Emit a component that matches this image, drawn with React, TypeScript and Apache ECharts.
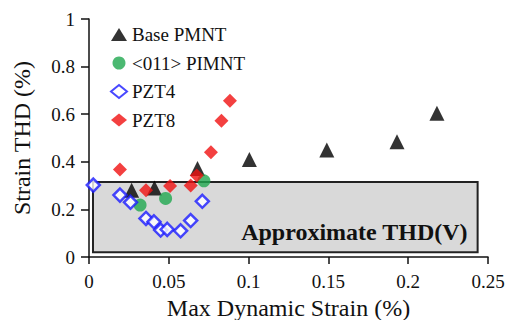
import React, { useEffect, useRef } from "react";
import * as echarts from "echarts";

const xTicks = [0, 0.05, 0.1, 0.15, 0.2, 0.25];
const yTicks = [0, 0.2, 0.4, 0.6, 0.8, 1];

const basePMNT: [number, number][] = [
  [0.0267, 0.28], [0.041, 0.29], [0.068, 0.372], [0.1005, 0.41],
  [0.149, 0.45], [0.193, 0.484], [0.218, 0.604],
];
const pimnt: [number, number][] = [
  [0.032, 0.218], [0.048, 0.246], [0.072, 0.32],
];
const pzt4: [number, number][] = [
  [0.0027, 0.302], [0.0194, 0.26], [0.026, 0.23], [0.0357, 0.162],
  [0.0407, 0.148], [0.0449, 0.113], [0.049, 0.116], [0.0574, 0.11],
  [0.0637, 0.153], [0.071, 0.234],
];
const pzt8: [number, number][] = [
  [0.0194, 0.368], [0.0357, 0.28], [0.0508, 0.298], [0.0637, 0.3],
  [0.0675, 0.342], [0.0764, 0.44], [0.083, 0.573], [0.0883, 0.657],
];
const thdBox = { x0: 0.0025, x1: 0.2435, y0: 0.02, y1: 0.315, label: "Approximate THD(V)" };

const FONT = "Times New Roman, Liberation Serif, serif";

export default function App() {
  const ref = useRef<HTMLDivElement>(null);
  useEffect(() => {
    if (!ref.current) return;
    const chart = echarts.init(ref.current, null, { renderer: "svg" });
    chart.setOption({
      animation: false,
      backgroundColor: "#fff",
      textStyle: { fontFamily: FONT, color: "#111" },
      grid: { left: 89, right: 20, top: 19, bottom: 63, containLabel: false, outerBoundsMode: "none" },
      legend: {
        data: ["Base PMNT", "<011> PIMNT", "PZT4", "PZT8"],
        orient: "vertical",
        left: 105,
        top: 20,
        itemGap: 9.5,
        itemWidth: 16,
        itemHeight: 13,
        textStyle: { fontFamily: FONT, fontSize: 19, color: "#111" },
      },
      xAxis: {
        type: "value",
        min: xTicks[0],
        max: xTicks[xTicks.length - 1],
        interval: 0.05,
        name: "Max Dynamic Strain (%)",
        nameLocation: "middle",
        nameGap: 38,
        nameTextStyle: { fontFamily: FONT, fontSize: 24, color: "#111" },
        axisLine: { lineStyle: { color: "#111", width: 1.5 } },
        axisTick: { show: true, length: 7, lineStyle: { color: "#111", width: 1.5 } },
        axisLabel: { fontFamily: FONT, fontSize: 19, color: "#111", margin: 15 },
        splitLine: { show: false },
      },
      yAxis: {
        type: "value",
        min: yTicks[0],
        max: yTicks[yTicks.length - 1],
        interval: 0.2,
        name: "Strain THD (%)",
        nameLocation: "middle",
        nameGap: 55,
        nameTextStyle: { fontFamily: FONT, fontSize: 24, color: "#111" },
        axisLine: { show: true, lineStyle: { color: "#111", width: 1.5 } },
        axisTick: { show: true, length: 8, lineStyle: { color: "#111", width: 1.5 } },
        axisLabel: { fontFamily: FONT, fontSize: 19, color: "#111", margin: 14 },
        splitLine: { show: false },
      },
      series: [
        {
          name: "box",
          type: "scatter",
          data: [],
          silent: true,
          markArea: {
            silent: true,
            itemStyle: { color: "#d9d9d9", borderColor: "#222", borderWidth: 2 },
            label: {
              show: true,
              position: "insideBottomRight",
              offset: [-6, -4],
              fontFamily: FONT,
              fontSize: 24,
              fontWeight: "bold",
              color: "#111",
            },
            data: [[
              { name: thdBox.label, coord: [thdBox.x0, thdBox.y0] },
              { coord: [thdBox.x1, thdBox.y1] },
            ]],
          },
        },
        {
          name: "Base PMNT",
          type: "scatter",
          symbol: "triangle",
          symbolSize: 15,
          itemStyle: { color: "#000" },
          data: basePMNT,
        },
        {
          name: "<011> PIMNT",
          type: "scatter",
          symbol: "circle",
          symbolSize: 13,
          itemStyle: { color: "#1fa84f" },
          data: pimnt,
        },
        {
          name: "PZT4",
          type: "scatter",
          symbol: "diamond",
          symbolSize: 13,
          itemStyle: { color: "#fff", borderColor: "#1a1aff", borderWidth: 2.5 },
          data: pzt4,
        },
        {
          name: "PZT8",
          type: "scatter",
          symbol: "diamond",
          symbolSize: 14,
          itemStyle: { color: "#f01010" },
          data: pzt8,
        },
      ],
    });
    return () => chart.dispose();
  }, []);
  return <div ref={ref} style={{ width: 508, height: 320, position: "absolute", left: 0, top: 0 }} />;
}
